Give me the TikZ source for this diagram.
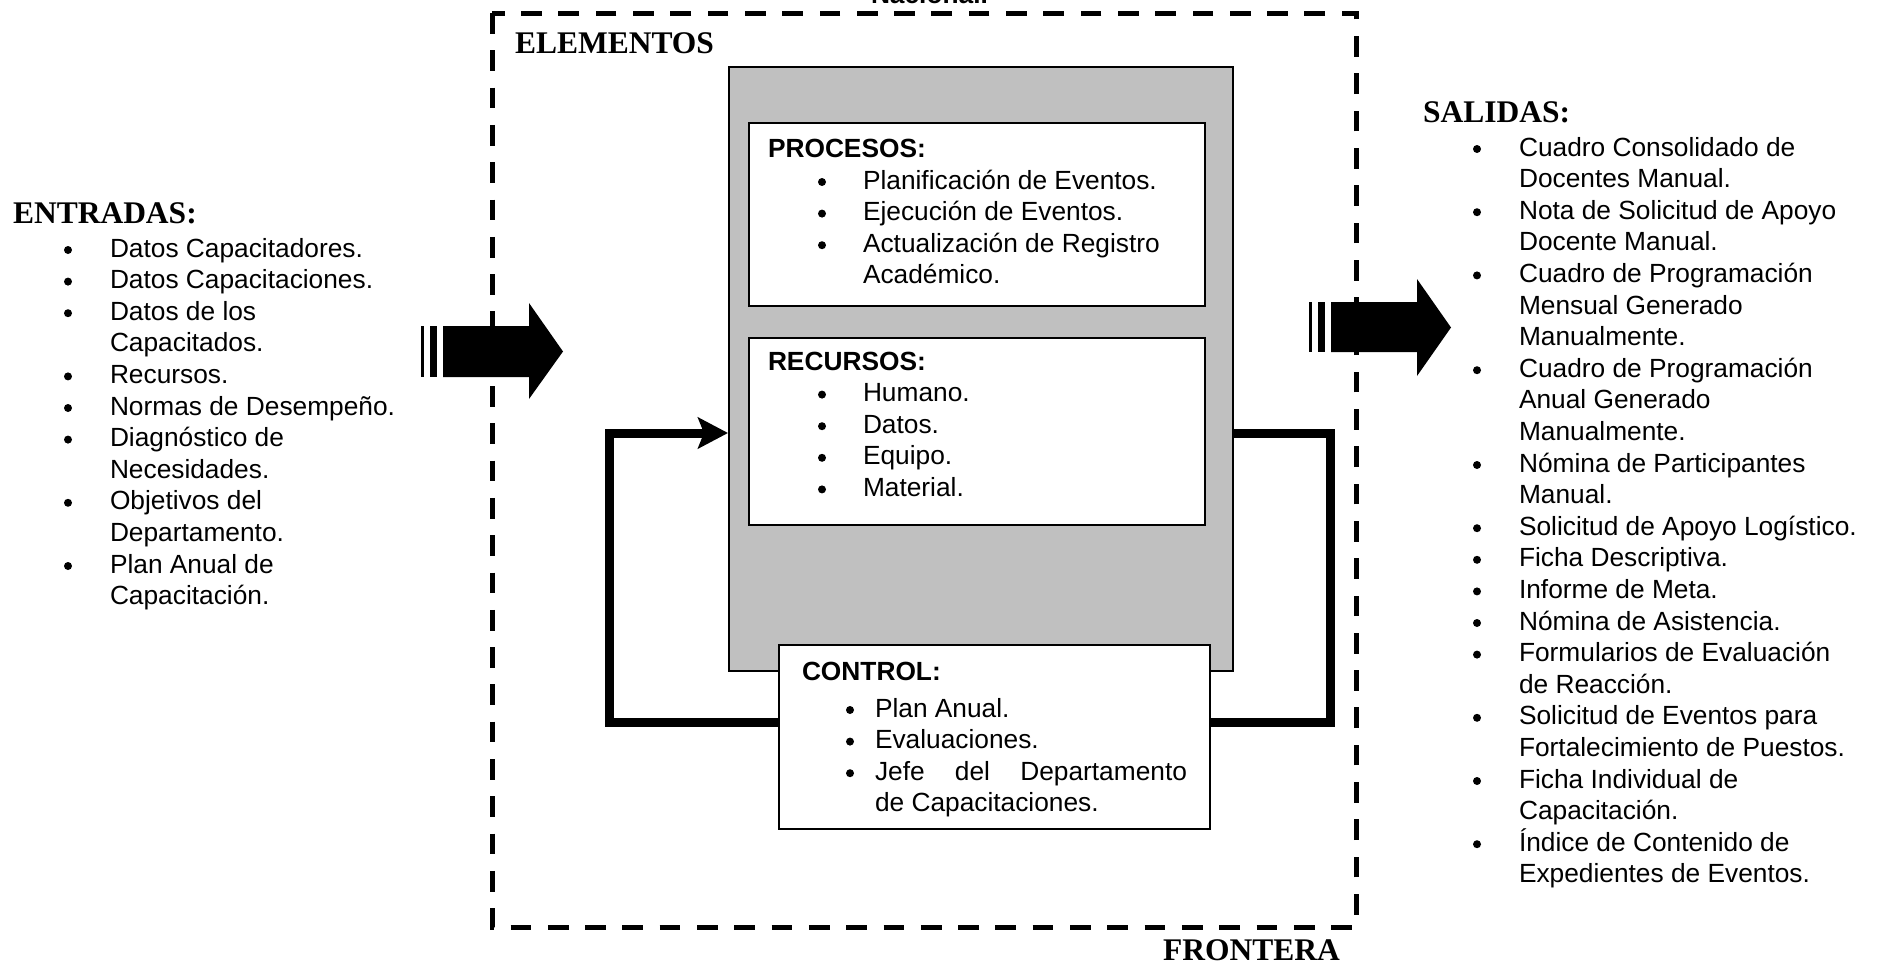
\documentclass[tikz,border=0pt]{standalone}
\usepackage{fontspec}
\setmainfont{Liberation Serif}
\newfontfamily\arialf{Liberation Sans}
\newfontfamily\timesf{Liberation Serif}
\usetikzlibrary{arrows.meta}
\definecolor{panelgray}{RGB}{192,192,192}

% stacked lines whose baseline is that of the first line
\newcommand\stacklines[1]{\begin{tabular}[t]{@{}l@{}}#1\end{tabular}}

% list entry: node name, text position, bullet offset, text
\newcommand\listentry[5]{%
  \node[body] (#1) at (#2,#3) {\stacklines{#5}};
  \fill ([xshift=-#4pt,yshift=7pt]#1.base west) circle (4pt);
}

\begin{document}
\begin{tikzpicture}[x=1pt, y=-1pt,
  body/.style={inner sep=0pt, outer sep=0pt, anchor=base west,
    font=\arialf\fontsize{26.3}{31.6}\selectfont},
  bodyhead/.style={inner sep=0pt, outer sep=0pt, anchor=base west,
    font=\arialf\bfseries\fontsize{26.3}{31.6}\selectfont},
  serifhead/.style={inner sep=0pt, outer sep=0pt, anchor=base west,
    font=\timesf\bfseries\fontsize{31.5}{36}\selectfont},
  whitebox/.style={draw=black, line width=2pt, fill=white, anchor=north west,
    inner sep=0pt},
  graybox/.style={draw=black, line width=2pt, fill=panelgray, anchor=north west,
    inner sep=0pt},
  frontier/.style={line width=5pt, dash pattern=on 20.7pt off 16.6pt},
  loopline/.style={line width=9pt, line join=miter},
  blockarrow/.style={fill=black}
]
\useasboundingbox (0,0) rectangle (1879,964);

% system boundary
\draw[frontier] (492,13) rectangle (1356,927);
\node[bodyhead] (nac) at (871,3) {Nacional.};
\node[serifhead] (elem) at (515,53) {ELEMENTOS};
\node[serifhead] (front) at (1163,960) {FRONTERA};

% system elements
\node[graybox, minimum width=504pt, minimum height=604pt] (sys) at (728,66) {};
\node[whitebox, minimum width=456pt, minimum height=183pt] (proc) at (748,122) {};
\node[whitebox, minimum width=456pt, minimum height=187pt] (recu) at (748,337) {};
\node[whitebox, minimum width=431pt, minimum height=184pt] (ctrl) at (778,644) {};

% feedback loop
\coordinate (lb) at (609,722);
\coordinate (lt) at (609,433);
\coordinate (rt) at (1330,433);
\coordinate (rb) at (1330,722);
\draw[loopline, -{Stealth[length=30pt, width=31pt, inset=6pt]}]
  (ctrl.west |- lb) -- (lb) -- (lt) -- (sys.west |- lt);
\draw[loopline] (sys.east |- rt) -- (rt) -- (rb) -- (ctrl.east |- rb);

% input arrow
\fill[blockarrow] (443,326) -- (529,326) -- (529,303) -- (563,351.5)
  -- (529,399) -- (529,377) -- (443,377) -- cycle;
\fill[blockarrow] (421,326) rectangle (423.5,377);
\fill[blockarrow] (430,326) rectangle (437,377);

% output arrow
\fill[blockarrow] (1331,302) -- (1417,302) -- (1417,279) -- (1451,327.5)
  -- (1417,376) -- (1417,352) -- (1331,352) -- cycle;
\fill[blockarrow] (1309,302) rectangle (1312,352);
\fill[blockarrow] (1318,302) rectangle (1325,352);

% inputs
\node[serifhead] (entr) at (13,223) {ENTRADAS:};
\listentry{e1}{110}{257}{42}{Datos Capacitadores.}
\listentry{e2}{110}{288.6}{42}{Datos Capacitaciones.}
\listentry{e3}{110}{320.2}{42}{Datos de los\\Capacitados.}
\listentry{e4}{110}{383.4}{42}{Recursos.}
\listentry{e5}{110}{415}{42}{Normas de Desempeño.}
\listentry{e6}{110}{446.6}{42}{Diagnóstico de\\Necesidades.}
\listentry{e7}{110}{509.8}{42}{Objetivos del\\Departamento.}
\listentry{e8}{110}{573}{42}{Plan Anual de\\Capacitación.}

% outputs
\node[serifhead] (sali) at (1423,122) {SALIDAS:};
\listentry{s1}{1519}{156}{42}{Cuadro Consolidado de\\Docentes Manual.}
\listentry{s2}{1519}{219.2}{42}{Nota de Solicitud de Apoyo\\Docente Manual.}
\listentry{s3}{1519}{282.4}{42}{Cuadro de Programación\\Mensual Generado\\Manualmente.}
\listentry{s4}{1519}{377.2}{42}{Cuadro de Programación\\Anual Generado\\Manualmente.}
\listentry{s5}{1519}{472}{42}{Nómina de Participantes\\Manual.}
\listentry{s6}{1519}{535.2}{42}{Solicitud de Apoyo Logístico.}
\listentry{s7}{1519}{566.8}{42}{Ficha Descriptiva.}
\listentry{s8}{1519}{598.4}{42}{Informe de Meta.}
\listentry{s9}{1519}{630}{42}{Nómina de Asistencia.}
\listentry{s10}{1519}{661.6}{42}{Formularios de Evaluación\\de Reacción.}
\listentry{s11}{1519}{724.8}{42}{Solicitud de Eventos para\\Fortalecimiento de Puestos.}
\listentry{s12}{1519}{788}{42}{Ficha Individual de\\Capacitación.}
\listentry{s13}{1519}{851.2}{42}{Índice de Contenido de\\Expedientes de Eventos.}

% processes
\node[bodyhead] (proch) at (768,157) {PROCESOS:};
\listentry{p1}{863}{189}{41}{Planificación de Eventos.}
\listentry{p2}{863}{220.6}{41}{Ejecución de Eventos.}
\listentry{p3}{863}{252.2}{41}{Actualización de Registro\\Académico.}

% resources
\node[bodyhead] (recuh) at (768,370) {RECURSOS:};
\listentry{r1}{863}{401.6}{41}{Humano.}
\listentry{r2}{863}{433.2}{41}{Datos.}
\listentry{r3}{863}{464.8}{41}{Equipo.}
\listentry{r4}{863}{496.4}{41}{Material.}

% control
\node[bodyhead] (ctrlh) at (802,680) {CONTROL:};
\listentry{c1}{875}{717}{25}{Plan Anual.}
\listentry{c2}{875}{748.6}{25}{Evaluaciones.}
\listentry{c3}{875}{780.2}{25}{\makebox[312pt][s]{Jefe del Departamento}\\de Capacitaciones.}
\end{tikzpicture}
\end{document}
